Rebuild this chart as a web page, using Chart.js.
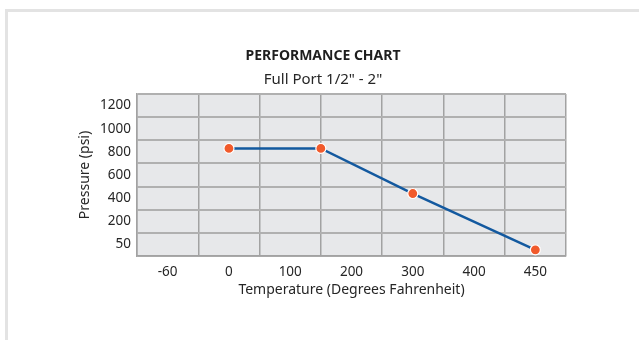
<!DOCTYPE html>
<html>
<head>
<meta charset="utf-8">
<script src="https://cdn.jsdelivr.net/npm/chart.js@4"></script>
<style>
  html, body { margin: 0; padding: 0; background: #fff; }
  #wrap { position: absolute; left: 5px; top: 9px; width: 631px; height: 328px;
          border-top: 3px solid #e3e3e3; border-left: 3px solid #e3e3e3; }
  canvas { display: block; }
</style>
</head>
<body>
<div id="wrap"><canvas id="c" width="631" height="328"></canvas></div>
<script>
// Axis tick labels (as printed on the chart)
const tempLabels = [-60, 0, 100, 200, 300, 400, 450];          // °F, left to right
const pressureLabels = [50, 200, 400, 600, 800, 1000, 1200];    // psi, bottom to top

// Series values
const temperatures = [0, 150, 300, 450];
const pressures = [830, 830, 440, 15];

// The chart places labels evenly, so map a value onto the label index (piecewise linear)
function toIndex(v, labels) {
  const n = labels.length;
  if (v <= labels[0]) return (v - labels[0]) / (labels[1] - labels[0]);
  for (let i = 0; i < n - 1; i++) {
    if (v <= labels[i + 1]) return i + (v - labels[i]) / (labels[i + 1] - labels[i]);
  }
  return (n - 1) + (v - labels[n - 1]) / (labels[n - 1] - labels[n - 2]);
}
const points = temperatures.map((t, i) => ({ x: toIndex(t, tempLabels), y: toIndex(pressures[i], pressureLabels) }));

function halfTicks(n) {
  const t = [];
  for (let v = -0.5; v <= n - 0.5 + 1e-9; v += 0.5) t.push({ value: v });
  return t;
}
const isInt = v => Math.abs(v - Math.round(v)) < 1e-6;

const FONT = "'Noto Sans', sans-serif";
const TXT = '#262626';

const plotBg = {
  id: 'plotBg',
  beforeDraw(chart) {
    const { ctx, chartArea: a } = chart;
    ctx.save();
    ctx.fillStyle = '#e7e8ea';
    ctx.fillRect(a.left, a.top, a.right - a.left, a.bottom - a.top);
    ctx.restore();
  }
};

new Chart(document.getElementById('c'), {
  type: 'line',
  data: {
    datasets: [{
      data: points,
      borderColor: '#13599f',
      borderWidth: 2.5,
      pointBackgroundColor: '#f15a2b',
      pointBorderColor: '#ffffff',
      pointBorderWidth: 1.2,
      pointRadius: 5,
      tension: 0,
      clip: false
    }]
  },
  options: {
    responsive: false,
    devicePixelRatio: 1,
    animation: false,
    layout: { padding: { left: 72, right: 73, top: 0, bottom: 42 } },
    plugins: {
      legend: { display: false },
      tooltip: { enabled: false },
      title: {
        display: true, text: 'PERFORMANCE CHART', color: '#1e1e1e',
        font: { family: FONT, size: 14, weight: 'bold', lineHeight: 1.2 },
        padding: { top: 36.1, bottom: 0 }
      },
      subtitle: {
        display: true, text: 'Full Port 1/2" - 2"', color: TXT,
        font: { family: FONT, size: 15, lineHeight: 1.2 },
        padding: { top: 6.1, bottom: 5 }
      }
    },
    scales: {
      x: {
        type: 'linear', min: -0.5, max: tempLabels.length - 0.5,
        afterBuildTicks: s => { s.ticks = halfTicks(tempLabels.length); },
        afterFit: s => { s.height = 42; },
        ticks: {
          autoSkip: false, maxRotation: 0, padding: 8, color: TXT,
          font: { family: FONT, size: 13.5 },
          callback: v => isInt(v) ? String(tempLabels[Math.round(v)]) : ''
        },
        grid: {
          drawTicks: false,
          color: c => isInt(c.tick.value) ? 'rgba(0,0,0,0)' : '#a2a2a2',
          lineWidth: 1.5
        },
        border: { display: true, color: '#a2a2a2', width: 1.5 },
        title: {
          display: true, text: 'Temperature (Degrees Fahrenheit)', color: TXT,
          font: { family: FONT, size: 14, lineHeight: 1.2 },
          padding: { top: 0, bottom: 0 }
        }
      },
      y: {
        type: 'linear', min: -0.5, max: pressureLabels.length - 0.5,
        afterBuildTicks: s => { s.ticks = halfTicks(pressureLabels.length); },
        afterFit: s => { s.width = 57; },
        ticks: {
          autoSkip: false, padding: 6, color: TXT,
          font: { family: FONT, size: 13.5 },
          callback: v => isInt(v) ? String(pressureLabels[Math.round(v)]) : ''
        },
        grid: {
          drawTicks: false,
          color: c => isInt(c.tick.value) ? 'rgba(0,0,0,0)' : '#b0b0b0',
          lineWidth: 2
        },
        border: { display: true, color: '#a2a2a2', width: 1.5 },
        title: {
          display: true, text: 'Pressure (psi)', color: TXT,
          font: { family: FONT, size: 14, lineHeight: 1.2 },
          padding: { top: -3.4, bottom: 0 }
        }
      }
    }
  },
  plugins: [plotBg]
});
</script>
</body>
</html>
